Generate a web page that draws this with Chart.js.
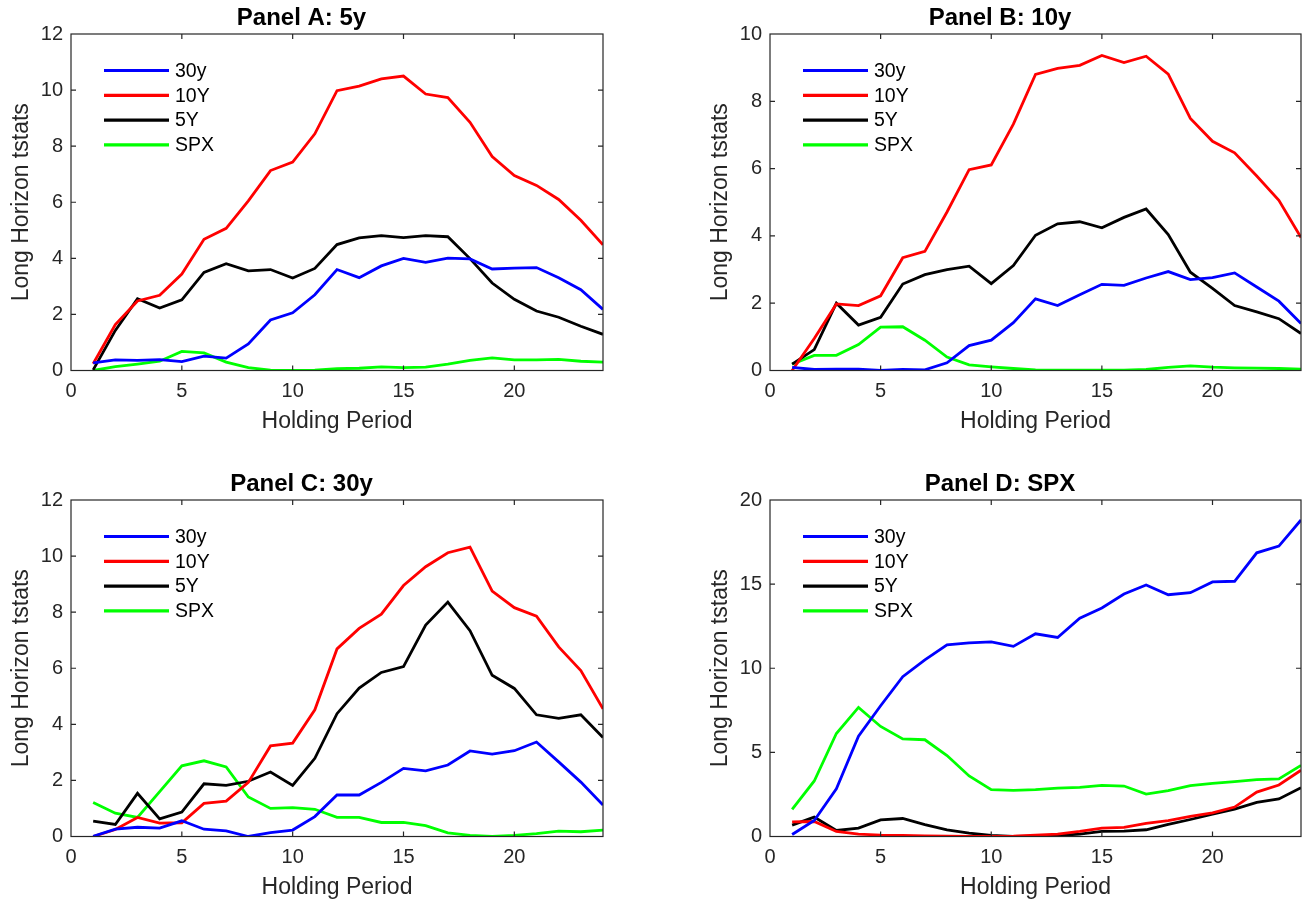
<!DOCTYPE html>
<html>
<head>
<meta charset="utf-8">
<script src="https://cdn.jsdelivr.net/npm/chart.js@4.4.1/dist/chart.umd.min.js"></script>
<style>
  body { margin: 0; background: #fff; }
  canvas { position: absolute; }
</style>
</head>
<body>
<canvas id="panelA" width="609" height="440" style="left:0px;top:0px"></canvas>
<canvas id="panelB" width="608" height="440" style="left:699px;top:0px"></canvas>
<canvas id="panelC" width="609" height="440" style="left:0px;top:466px"></canvas>
<canvas id="panelD" width="608" height="440" style="left:699px;top:466px"></canvas>
<script>
const periods = [1, 2, 3, 4, 5, 6, 7, 8, 9, 10, 11, 12, 13, 14, 15, 16, 17, 18, 19, 20, 21, 22, 23, 24];
const seriesNames = ['30y', '10Y', '5Y', 'SPX'];
const seriesColors = ['#0000ff', '#ff0000', '#000000', '#00ff00'];

// Panel A: 5y
const a30y = [0.27, 0.38, 0.36, 0.39, 0.32, 0.51, 0.44, 0.95, 1.8, 2.06, 2.7, 3.6, 3.31, 3.73, 4.0, 3.86, 4.01, 3.98, 3.62, 3.65, 3.67, 3.31, 2.88, 2.18];
const a10y = [0.24, 1.64, 2.48, 2.68, 3.44, 4.68, 5.07, 6.05, 7.13, 7.43, 8.44, 9.98, 10.14, 10.4, 10.5, 9.86, 9.73, 8.85, 7.63, 6.95, 6.6, 6.1, 5.36, 4.48];
const a5y = [0.02, 1.43, 2.56, 2.23, 2.52, 3.5, 3.81, 3.55, 3.6, 3.3, 3.64, 4.49, 4.73, 4.81, 4.74, 4.81, 4.77, 3.99, 3.12, 2.54, 2.12, 1.9, 1.58, 1.29];
const aSpx = [0.0, 0.14, 0.23, 0.33, 0.68, 0.63, 0.3, 0.1, 0.01, 0.0, 0.01, 0.07, 0.08, 0.13, 0.1, 0.12, 0.23, 0.36, 0.45, 0.38, 0.38, 0.4, 0.33, 0.3];

// Panel B: 10y
const b30y = [0.09, 0.03, 0.04, 0.04, 0.0, 0.03, 0.02, 0.23, 0.74, 0.9, 1.42, 2.13, 1.93, 2.25, 2.56, 2.53, 2.75, 2.94, 2.7, 2.76, 2.9, 2.48, 2.06, 1.4];
const b10y = [0.0, 0.95, 1.98, 1.93, 2.22, 3.35, 3.54, 4.71, 5.97, 6.11, 7.32, 8.8, 8.98, 9.07, 9.36, 9.15, 9.34, 8.81, 7.49, 6.81, 6.47, 5.78, 5.06, 3.95];
const b5y = [0.19, 0.62, 2.0, 1.35, 1.58, 2.57, 2.85, 3.0, 3.1, 2.58, 3.12, 4.02, 4.36, 4.42, 4.24, 4.55, 4.8, 4.04, 2.92, 2.44, 1.93, 1.74, 1.54, 1.1];
const bSpx = [0.19, 0.45, 0.45, 0.77, 1.29, 1.3, 0.9, 0.4, 0.17, 0.11, 0.06, 0.02, 0.01, 0.01, 0.01, 0.01, 0.03, 0.09, 0.14, 0.1, 0.08, 0.07, 0.06, 0.04];

// Panel C: 30y
const c30y = [0.01, 0.26, 0.33, 0.3, 0.56, 0.26, 0.2, 0.0, 0.14, 0.23, 0.71, 1.48, 1.48, 1.93, 2.43, 2.34, 2.55, 3.05, 2.94, 3.06, 3.37, 2.66, 1.94, 1.12];
const c10y = [0.0, 0.25, 0.68, 0.48, 0.49, 1.18, 1.26, 1.93, 3.23, 3.33, 4.52, 6.69, 7.42, 7.93, 8.95, 9.62, 10.12, 10.32, 8.75, 8.16, 7.86, 6.76, 5.92, 4.55];
const c5y = [0.55, 0.43, 1.54, 0.63, 0.87, 1.88, 1.82, 1.97, 2.3, 1.82, 2.79, 4.38, 5.29, 5.85, 6.06, 7.54, 8.36, 7.34, 5.75, 5.28, 4.34, 4.21, 4.34, 3.53];
const cSpx = [1.21, 0.83, 0.68, 1.6, 2.52, 2.7, 2.48, 1.41, 1.0, 1.03, 0.97, 0.68, 0.68, 0.5, 0.5, 0.39, 0.13, 0.04, 0.0, 0.04, 0.1, 0.19, 0.17, 0.23];

// Panel D: SPX
const d30y = [0.12, 0.95, 2.84, 5.96, 7.77, 9.5, 10.5, 11.39, 11.51, 11.57, 11.3, 12.05, 11.83, 12.98, 13.58, 14.41, 14.95, 14.37, 14.49, 15.13, 15.17, 16.86, 17.26, 18.81];
const d10y = [0.87, 0.89, 0.3, 0.14, 0.08, 0.06, 0.04, 0.02, 0.0, 0.0, 0.02, 0.08, 0.14, 0.3, 0.5, 0.54, 0.78, 0.95, 1.19, 1.41, 1.75, 2.64, 3.06, 3.94];
const d5y = [0.68, 1.15, 0.36, 0.5, 0.99, 1.07, 0.7, 0.4, 0.2, 0.06, 0.0, 0.02, 0.06, 0.14, 0.3, 0.32, 0.4, 0.72, 1.01, 1.33, 1.63, 2.03, 2.23, 2.9];
const dSpx = [1.61, 3.3, 6.12, 7.67, 6.54, 5.8, 5.75, 4.81, 3.6, 2.78, 2.74, 2.78, 2.88, 2.92, 3.04, 3.0, 2.52, 2.72, 3.02, 3.16, 3.26, 3.38, 3.42, 4.23];

const FONT = "'Liberation Sans', Arial, Helvetica, sans-serif";
const AXIS_COLOR = '#262626';

// box around the plot with inward tick marks on all four sides
const framePlugin = {
  id: 'frame',
  afterDatasetsDraw(chart) {
    const { ctx, chartArea: a, scales: { x, y } } = chart;
    const len = 5;
    ctx.save();
    ctx.strokeStyle = AXIS_COLOR;
    ctx.lineWidth = 1.2;
    ctx.beginPath();
    x.ticks.forEach(t => {
      const px = x.getPixelForValue(t.value);
      if (px <= a.left + 1 || px >= a.right - 1) return;
      ctx.moveTo(px, a.bottom); ctx.lineTo(px, a.bottom - len);
      ctx.moveTo(px, a.top); ctx.lineTo(px, a.top + len);
    });
    y.ticks.forEach(t => {
      const py = y.getPixelForValue(t.value);
      if (py <= a.top + 1 || py >= a.bottom - 1) return;
      ctx.moveTo(a.left, py); ctx.lineTo(a.left + len, py);
      ctx.moveTo(a.right, py); ctx.lineTo(a.right - len, py);
    });
    ctx.stroke();
    ctx.strokeRect(a.left, a.top, a.right - a.left, a.bottom - a.top);
    ctx.restore();
  }
};

// legend inside the top-left of the plot, matlab style
const innerLegend = {
  id: 'innerLegend',
  afterDraw(chart) {
    const { ctx, chartArea: a } = chart;
    ctx.save();
    ctx.font = '19.5px ' + FONT;
    ctx.textBaseline = 'middle';
    ctx.textAlign = 'left';
    chart.data.datasets.forEach((ds, i) => {
      const yy = a.top + 36.5 + i * 24.8;
      ctx.strokeStyle = ds.borderColor;
      ctx.lineWidth = 3.2;
      ctx.beginPath();
      ctx.moveTo(a.left + 33, yy);
      ctx.lineTo(a.left + 98, yy);
      ctx.stroke();
      ctx.fillStyle = '#000';
      ctx.fillText(ds.label, a.left + 104, yy + 1);
    });
    ctx.restore();
  }
};

function makePanel(id, title, values, yMax, yStep) {
  const ctx = document.getElementById(id).getContext('2d');
  return new Chart(ctx, {
    type: 'line',
    data: {
      labels: periods,
      datasets: values.map((v, i) => ({
        label: seriesNames[i],
        data: v,
        borderColor: seriesColors[i],
        borderWidth: 2.8,
        pointRadius: 0,
        tension: 0,
        fill: false
      }))
    },
    options: {
      responsive: false,
      animation: false,
      layout: { padding: { right: 6 } },
      plugins: {
        legend: { display: false },
        tooltip: { enabled: false },
        title: {
          display: true,
          text: title,
          color: '#000',
          font: { family: FONT, size: 24, weight: 'bold' },
          padding: { top: 3.5, bottom: 1.7 }
        }
      },
      scales: {
        x: {
          type: 'linear',
          min: 0,
          max: 24,
          grid: { display: false, drawTicks: false },
          border: { display: false },
          ticks: {
            stepSize: 5,
            includeBounds: false,
            color: AXIS_COLOR,
            padding: 9,
            maxRotation: 0,
            font: { family: FONT, size: 20 }
          },
          title: {
            display: true,
            text: 'Holding Period',
            color: AXIS_COLOR,
            font: { family: FONT, size: 23 },
            padding: { top: 0, bottom: 5 }
          },
          afterFit(scale) { scale.height = 69.5; }
        },
        y: {
          min: 0,
          max: yMax,
          grid: { display: false, drawTicks: false },
          border: { display: false },
          ticks: {
            stepSize: yStep,
            color: AXIS_COLOR,
            padding: 8,
            font: { family: FONT, size: 20 }
          },
          title: {
            display: true,
            text: 'Long Horizon tstats',
            color: AXIS_COLOR,
            font: { family: FONT, size: 23 },
            padding: { top: 8, bottom: 0 }
          },
          afterFit(scale) { scale.width = 71; }
        }
      }
    },
    plugins: [framePlugin, innerLegend]
  });
}

makePanel('panelA', 'Panel A: 5y', [a30y, a10y, a5y, aSpx], 12, 2);
makePanel('panelB', 'Panel B: 10y', [b30y, b10y, b5y, bSpx], 10, 2);
makePanel('panelC', 'Panel C: 30y', [c30y, c10y, c5y, cSpx], 12, 2);
makePanel('panelD', 'Panel D: SPX', [d30y, d10y, d5y, dSpx], 20, 5);
</script>
</body>
</html>
